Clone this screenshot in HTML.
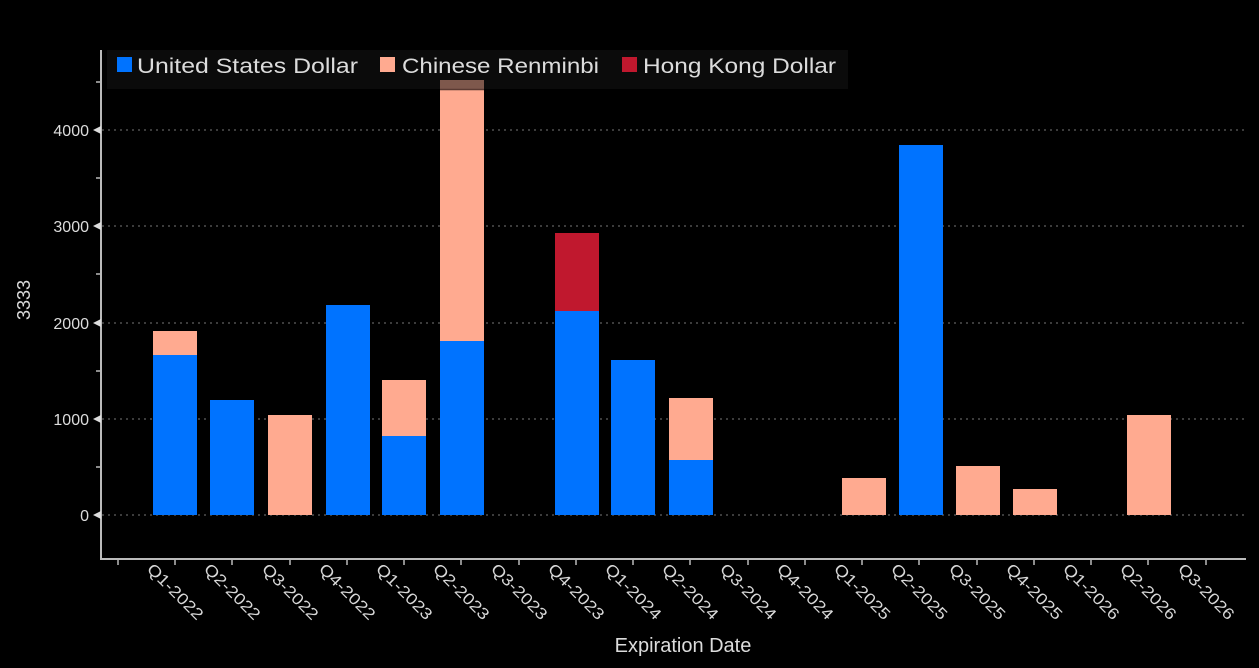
<!DOCTYPE html>
<html><head><meta charset="utf-8"><style>
html,body{margin:0;padding:0;background:#000;}
svg{display:block;font-family:"Liberation Sans",sans-serif;}
</style></head><body>
<svg width="1259" height="668" viewBox="0 0 1259 668" xmlns="http://www.w3.org/2000/svg">
<rect width="1259" height="668" fill="#000"/>
<g stroke="#777" stroke-width="1" stroke-dasharray="2,4">
<line x1="102" y1="130" x2="1246" y2="130"/>
<line x1="102" y1="226" x2="1246" y2="226"/>
<line x1="102" y1="323" x2="1246" y2="323"/>
<line x1="102" y1="419" x2="1246" y2="419"/>
<line x1="102" y1="515" x2="1246" y2="515"/>
</g>
<g>
<rect x="153" y="355" width="44" height="160" fill="#0073ff"/>
<rect x="153" y="331" width="44" height="24" fill="#ffaa90"/>
<rect x="210" y="400" width="44" height="115" fill="#0073ff"/>
<rect x="268" y="415" width="44" height="100" fill="#ffaa90"/>
<rect x="326" y="305" width="44" height="210" fill="#0073ff"/>
<rect x="382" y="436" width="44" height="79" fill="#0073ff"/>
<rect x="382" y="380" width="44" height="56" fill="#ffaa90"/>
<rect x="440" y="341" width="44" height="174" fill="#0073ff"/>
<rect x="440" y="80" width="44" height="261" fill="#ffaa90"/>
<rect x="555" y="311" width="44" height="204" fill="#0073ff"/>
<rect x="555" y="233" width="44" height="78" fill="#c0182e"/>
<rect x="611" y="360" width="44" height="155" fill="#0073ff"/>
<rect x="669" y="460" width="44" height="55" fill="#0073ff"/>
<rect x="669" y="398" width="44" height="62" fill="#ffaa90"/>
<rect x="842" y="478" width="44" height="37" fill="#ffaa90"/>
<rect x="899" y="145" width="44" height="370" fill="#0073ff"/>
<rect x="956" y="466" width="44" height="49" fill="#ffaa90"/>
<rect x="1013" y="489" width="44" height="26" fill="#ffaa90"/>
<rect x="1127" y="415" width="44" height="100" fill="#ffaa90"/>
</g>
<rect x="107" y="50" width="741" height="39" fill="#141414" fill-opacity="0.55"/>
<line x1="440" y1="89.5" x2="484" y2="89.5" stroke="#5a3a32" stroke-width="1.5"/>
<g font-size="21" fill="#dcdcdc">
<rect x="117" y="57" width="15" height="15" fill="#0073ff"/>
<text x="137" y="73" textLength="221" lengthAdjust="spacingAndGlyphs">United States Dollar</text>
<rect x="380" y="57" width="15" height="15" fill="#ffaa90"/>
<text x="402" y="73" textLength="197" lengthAdjust="spacingAndGlyphs">Chinese Renminbi</text>
<rect x="622" y="57" width="15" height="15" fill="#c0182e"/>
<text x="643" y="73" textLength="193" lengthAdjust="spacingAndGlyphs">Hong Kong Dollar</text>
</g>
<g stroke="#bbb" stroke-width="2" fill="none">
<line x1="101" y1="50" x2="101" y2="559"/>
<line x1="100" y1="559" x2="1246" y2="559"/>
</g>
<g stroke="#bbb" stroke-width="1.5">
<line x1="96" y1="82" x2="101" y2="82"/>
<line x1="96" y1="178" x2="101" y2="178"/>
<line x1="96" y1="274" x2="101" y2="274"/>
<line x1="96" y1="371" x2="101" y2="371"/>
<line x1="96" y1="467" x2="101" y2="467"/>
</g>
<g fill="#ddd">
<polygon points="93,130 101,126 101,134"/>
<polygon points="93,226 101,222 101,230"/>
<polygon points="93,323 101,319 101,327"/>
<polygon points="93,419 101,415 101,423"/>
<polygon points="93,515 101,511 101,519"/>
</g>
<g font-size="16" fill="#dcdcdc" text-anchor="end">
<text x="89" y="136">4000</text>
<text x="89" y="232">3000</text>
<text x="89" y="329">2000</text>
<text x="89" y="425">1000</text>
<text x="89" y="521">0</text>
</g>
<text transform="translate(30,300) rotate(-90)" font-size="18" fill="#dcdcdc" text-anchor="middle">3333</text>
<text x="683" y="652" font-size="20" fill="#dcdcdc" text-anchor="middle">Expiration Date</text>
<g stroke="#bbb" stroke-width="1.5">
<line x1="118" y1="559" x2="118" y2="565"/>
<line x1="175" y1="559" x2="175" y2="565"/>
<line x1="232" y1="559" x2="232" y2="565"/>
<line x1="290" y1="559" x2="290" y2="565"/>
<line x1="347" y1="559" x2="347" y2="565"/>
<line x1="404" y1="559" x2="404" y2="565"/>
<line x1="461" y1="559" x2="461" y2="565"/>
<line x1="519" y1="559" x2="519" y2="565"/>
<line x1="576" y1="559" x2="576" y2="565"/>
<line x1="633" y1="559" x2="633" y2="565"/>
<line x1="690" y1="559" x2="690" y2="565"/>
<line x1="748" y1="559" x2="748" y2="565"/>
<line x1="805" y1="559" x2="805" y2="565"/>
<line x1="862" y1="559" x2="862" y2="565"/>
<line x1="919" y1="559" x2="919" y2="565"/>
<line x1="977" y1="559" x2="977" y2="565"/>
<line x1="1034" y1="559" x2="1034" y2="565"/>
<line x1="1091" y1="559" x2="1091" y2="565"/>
<line x1="1148" y1="559" x2="1148" y2="565"/>
<line x1="1206" y1="559" x2="1206" y2="565"/>
</g>
<g font-size="16" fill="#d8d8d8">
<text transform="translate(146,570) rotate(45)" textLength="72" lengthAdjust="spacingAndGlyphs">Q1-2022</text>
<text transform="translate(203,570) rotate(45)" textLength="72" lengthAdjust="spacingAndGlyphs">Q2-2022</text>
<text transform="translate(261,570) rotate(45)" textLength="72" lengthAdjust="spacingAndGlyphs">Q3-2022</text>
<text transform="translate(318,570) rotate(45)" textLength="72" lengthAdjust="spacingAndGlyphs">Q4-2022</text>
<text transform="translate(375,570) rotate(45)" textLength="72" lengthAdjust="spacingAndGlyphs">Q1-2023</text>
<text transform="translate(432,570) rotate(45)" textLength="72" lengthAdjust="spacingAndGlyphs">Q2-2023</text>
<text transform="translate(490,570) rotate(45)" textLength="72" lengthAdjust="spacingAndGlyphs">Q3-2023</text>
<text transform="translate(547,570) rotate(45)" textLength="72" lengthAdjust="spacingAndGlyphs">Q4-2023</text>
<text transform="translate(604,570) rotate(45)" textLength="72" lengthAdjust="spacingAndGlyphs">Q1-2024</text>
<text transform="translate(661,570) rotate(45)" textLength="72" lengthAdjust="spacingAndGlyphs">Q2-2024</text>
<text transform="translate(719,570) rotate(45)" textLength="72" lengthAdjust="spacingAndGlyphs">Q3-2024</text>
<text transform="translate(776,570) rotate(45)" textLength="72" lengthAdjust="spacingAndGlyphs">Q4-2024</text>
<text transform="translate(833,570) rotate(45)" textLength="72" lengthAdjust="spacingAndGlyphs">Q1-2025</text>
<text transform="translate(890,570) rotate(45)" textLength="72" lengthAdjust="spacingAndGlyphs">Q2-2025</text>
<text transform="translate(948,570) rotate(45)" textLength="72" lengthAdjust="spacingAndGlyphs">Q3-2025</text>
<text transform="translate(1005,570) rotate(45)" textLength="72" lengthAdjust="spacingAndGlyphs">Q4-2025</text>
<text transform="translate(1062,570) rotate(45)" textLength="72" lengthAdjust="spacingAndGlyphs">Q1-2026</text>
<text transform="translate(1119,570) rotate(45)" textLength="72" lengthAdjust="spacingAndGlyphs">Q2-2026</text>
<text transform="translate(1177,570) rotate(45)" textLength="72" lengthAdjust="spacingAndGlyphs">Q3-2026</text>
</g>
</svg>
</body></html>
